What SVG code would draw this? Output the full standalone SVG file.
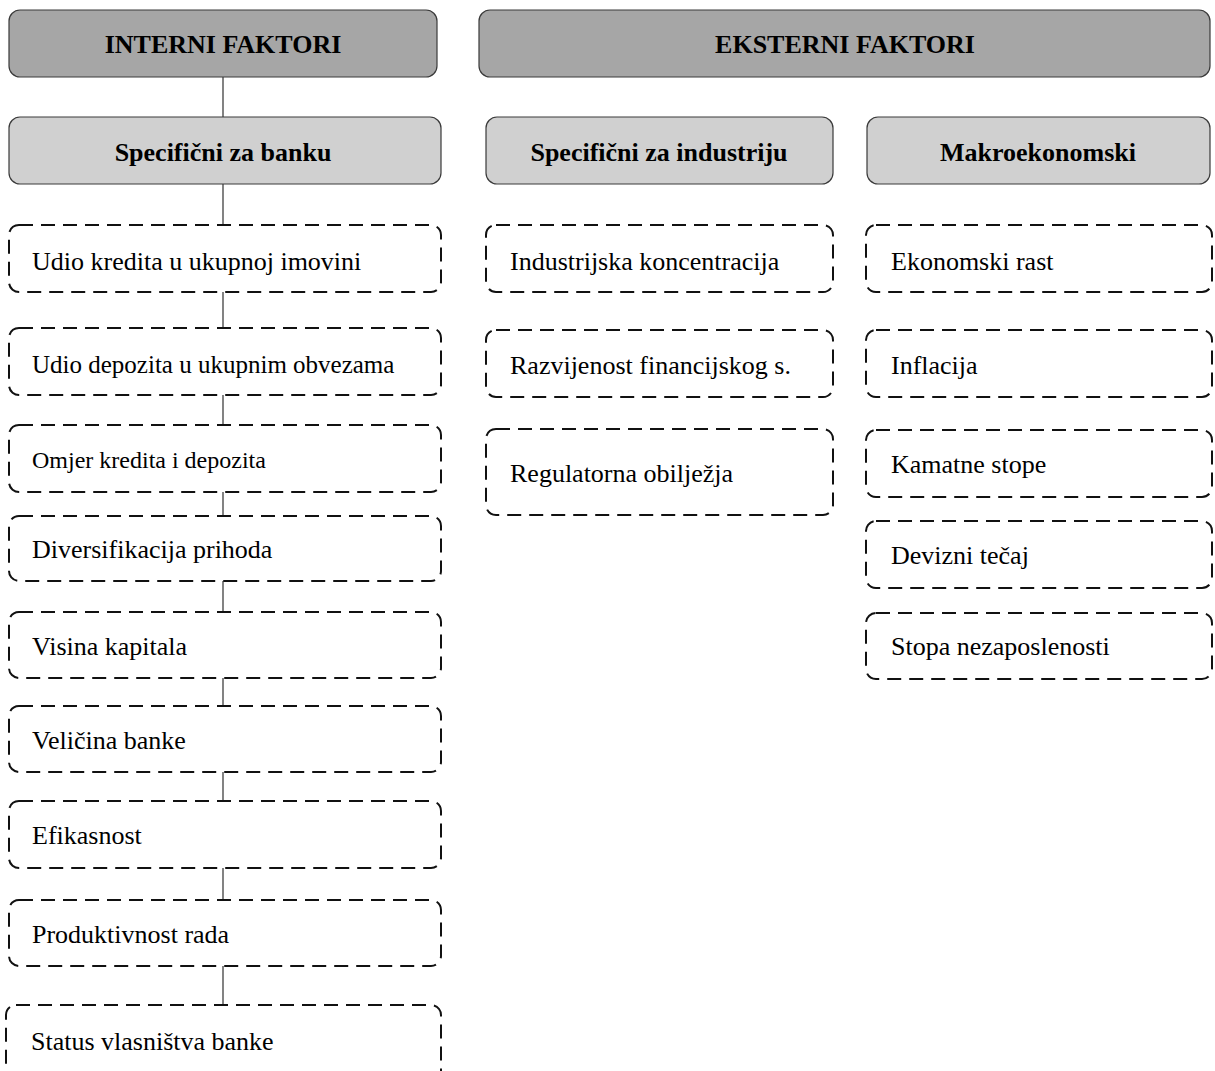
<svg xmlns="http://www.w3.org/2000/svg" width="1215" height="1071" viewBox="0 0 1215 1071">
<style>
.hdr{fill:#a6a6a6;stroke:#3a3a3a;stroke-width:1.2}
.sub{fill:#d0d0d0;stroke:#3a3a3a;stroke-width:1.2}
.dash{fill:#fff;stroke:#111;stroke-width:2;stroke-dasharray:14 8}
.bt{font-family:"Liberation Serif","Times New Roman",serif;font-weight:bold;font-size:26px;fill:#000;text-anchor:middle}
.t{font-family:"Liberation Serif","Times New Roman",serif;font-size:26px;fill:#000}
.conn line{stroke:#404040;stroke-width:1.3}
</style>
<rect width="1215" height="1071" fill="#fff"/>
<g class="conn" id="connectors">
<line x1="223" y1="77" x2="223" y2="117"/>
<line x1="223" y1="184" x2="223" y2="225"/>
<line x1="223" y1="292" x2="223" y2="328"/>
<line x1="223" y1="395" x2="223" y2="425"/>
<line x1="223" y1="492" x2="223" y2="516"/>
<line x1="223" y1="581" x2="223" y2="612"/>
<line x1="223" y1="678" x2="223" y2="706"/>
<line x1="223" y1="772" x2="223" y2="801"/>
<line x1="223" y1="868" x2="223" y2="900"/>
<line x1="223" y1="966" x2="223" y2="1005"/>
</g>
<g id="interni"><rect class="hdr" x="9" y="10" width="428" height="67" rx="11"/><text class="bt" x="223" y="53">INTERNI FAKTORI</text></g>
<g id="eksterni"><rect class="hdr" x="479" y="10" width="731" height="67" rx="11"/><text class="bt" x="845" y="53">EKSTERNI FAKTORI</text></g>
<g id="spec-banka"><rect class="sub" x="9" y="117" width="432" height="67" rx="11"/><text class="bt" x="223" y="161">Specifični za banku</text></g>
<g id="spec-industrija"><rect class="sub" x="486" y="117" width="347" height="67" rx="11"/><text class="bt" x="659" y="161">Specifični za industriju</text></g>
<g id="makro"><rect class="sub" x="867" y="117" width="343" height="67" rx="11"/><text class="bt" x="1038" y="161">Makroekonomski</text></g>

<g id="b1"><rect class="dash" x="9" y="225" width="432" height="67" rx="10"/><text class="t" x="32" y="270">Udio kredita u ukupnoj imovini</text></g>
<g id="b2"><rect class="dash" x="9" y="328" width="432" height="67" rx="10"/><text class="t" x="32" y="373" style="font-size:25px">Udio depozita u ukupnim obvezama</text></g>
<g id="b3"><rect class="dash" x="9" y="425" width="432" height="67" rx="10"/><text class="t" x="32" y="468" style="font-size:24px">Omjer kredita i depozita</text></g>
<g id="b4"><rect class="dash" x="9" y="516" width="432" height="65" rx="10"/><text class="t" x="32" y="558">Diversifikacija prihoda</text></g>
<g id="b5"><rect class="dash" x="9" y="612" width="432" height="66" rx="10"/><text class="t" x="32" y="655">Visina kapitala</text></g>
<g id="b6"><rect class="dash" x="9" y="706" width="432" height="66" rx="10"/><text class="t" x="32" y="749">Veličina banke</text></g>
<g id="b7"><rect class="dash" x="9" y="801" width="432" height="67" rx="10"/><text class="t" x="32" y="844">Efikasnost</text></g>
<g id="b8"><rect class="dash" x="9" y="900" width="432" height="66" rx="10"/><text class="t" x="32" y="943">Produktivnost rada</text></g>
<g id="b9"><rect class="dash" x="6" y="1005" width="435" height="90" rx="10"/><text class="t" x="31" y="1050">Status vlasništva banke</text></g>

<g id="i1"><rect class="dash" x="486" y="225" width="347" height="67" rx="10"/><text class="t" x="510" y="270">Industrijska koncentracija</text></g>
<g id="i2"><rect class="dash" x="486" y="330" width="347" height="67" rx="10"/><text class="t" x="510" y="374">Razvijenost financijskog s.</text></g>
<g id="i3"><rect class="dash" x="486" y="429" width="347" height="86" rx="10"/><text class="t" x="510" y="482">Regulatorna obilježja</text></g>

<g id="m1"><rect class="dash" x="866" y="225" width="346" height="67" rx="10"/><text class="t" x="891" y="270">Ekonomski rast</text></g>
<g id="m2"><rect class="dash" x="866" y="330" width="346" height="67" rx="10"/><text class="t" x="891" y="374">Inflacija</text></g>
<g id="m3"><rect class="dash" x="866" y="430" width="346" height="67" rx="10"/><text class="t" x="891" y="473">Kamatne stope</text></g>
<g id="m4"><rect class="dash" x="866" y="521" width="346" height="67" rx="10"/><text class="t" x="891" y="564">Devizni tečaj</text></g>
<g id="m5"><rect class="dash" x="866" y="613" width="346" height="66" rx="10"/><text class="t" x="891" y="655">Stopa nezaposlenosti</text></g>
</svg>
